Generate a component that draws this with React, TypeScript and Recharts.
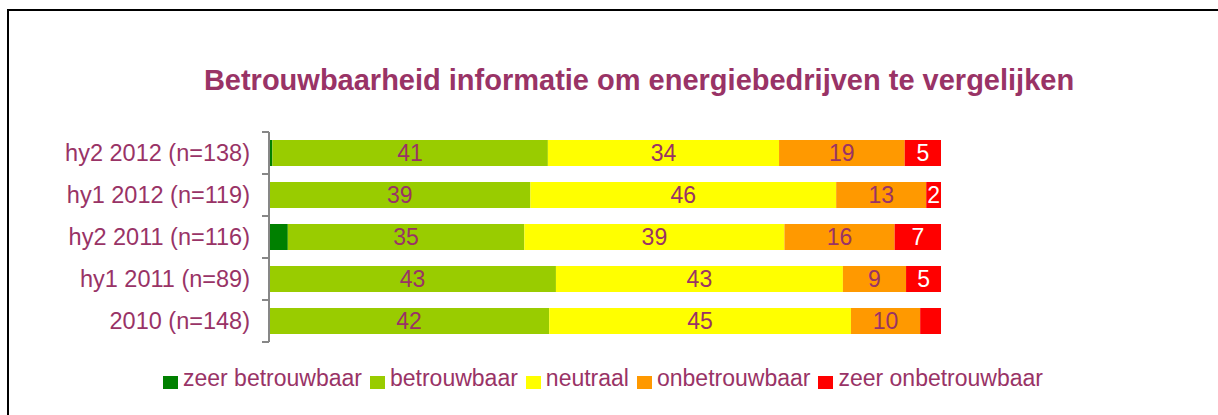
import React from "react"
import { BarChart, Bar, XAxis, YAxis, LabelList } from "recharts"

const categorieen = [
  "hy2 2012 (n=138)",
  "hy1 2012 (n=119)",
  "hy2 2011 (n=116)",
  "hy1 2011 (n=89)",
  "2010 (n=148)",
]
const zeerBetrouwbaar = [0.5, 0, 2.8, 0, 0]
const betrouwbaar = [41, 38.9, 35.2, 42.7, 41.7]
const neutraal = [34.4, 45.5, 38.7, 42.7, 44.9]
const onbetrouwbaar = [18.7, 13.4, 16.4, 9.4, 10.3]
const zeerOnbetrouwbaar = [5.4, 2.2, 6.9, 5.2, 3.1]
// in the original the last segment of 2010 carries no label
const zeerOnLabelZichtbaar = [true, true, true, true, false]

const titel = "Betrouwbaarheid informatie om energiebedrijven te vergelijken"
const TEKST = "#993366"
const AS = "#878787"
const FONT = "Arial, 'Liberation Sans', sans-serif"

const MARGE = { top: 132, right: 277, bottom: 73, left: 0 }
const HOOGTE = 415
const halveBand = (HOOGTE - MARGE.top - MARGE.bottom) / categorieen.length / 2

const reeksen = [
  { key: "zeerBetrouwbaar", name: "zeer betrouwbaar", color: "#008000", label: null },
  { key: "betrouwbaar", name: "betrouwbaar", color: "#99CC00", label: TEKST },
  { key: "neutraal", name: "neutraal", color: "#FFFF00", label: TEKST },
  { key: "onbetrouwbaar", name: "onbetrouwbaar", color: "#FF9900", label: TEKST },
  { key: "zeerOnbetrouwbaar", name: "zeer onbetrouwbaar", color: "#FF0000", label: "#FFFFFF" },
]

const data = categorieen.map((cat, i) => ({
  cat,
  zeerBetrouwbaar: zeerBetrouwbaar[i],
  betrouwbaar: betrouwbaar[i],
  neutraal: neutraal[i],
  onbetrouwbaar: onbetrouwbaar[i],
  zeerOnbetrouwbaar: zeerOnbetrouwbaar[i],
}))

function segmentLabel(kleur: string, key: string) {
  return (props: any) => {
    const { x, y, width, height, value, index } = props
    if (key === "zeerOnbetrouwbaar" && !zeerOnLabelZichtbaar[index]) return null
    return (
      <text
        x={Number(x) + Number(width) / 2}
        y={Number(y) + Number(height) / 2}
        dy="0.355em"
        textAnchor="middle"
        fill={kleur}
        fontSize={23}
        fontFamily={FONT}
      >
        {Math.round(Number(value))}
      </text>
    )
  }
}

// category label plus tick marks on the band boundaries (Excel style)
function CategorieTick(props: any) {
  const { x, y, payload, index } = props
  const asX = x + 19
  const laatste = index === categorieen.length - 1
  return (
    <g>
      <line x1={asX - 7} x2={asX} y1={y - halveBand} y2={y - halveBand} stroke={AS} strokeWidth={2} />
      {laatste && (
        <line x1={asX - 7} x2={asX} y1={y + halveBand} y2={y + halveBand} stroke={AS} strokeWidth={2} />
      )}
      <text x={x} y={y} dy="0.355em" textAnchor="end" fill={TEKST} fontSize={23.5} fontFamily={FONT}>
        {payload.value}
      </text>
    </g>
  )
}

export default function App() {
  return (
    <div
      style={{
        position: "absolute",
        left: 0,
        top: 0,
        width: 1218,
        height: 415,
        overflow: "hidden",
        background: "#fff",
        fontFamily: FONT,
      }}
    >
      <div
        style={{
          position: "absolute",
          left: 7,
          top: 9,
          width: 1300,
          height: 500,
          border: "2px solid #000",
        }}
      />
      <div
        style={{
          position: "absolute",
          left: 0,
          top: 66,
          width: 1278,
          textAlign: "center",
          fontSize: 29,
          lineHeight: "29px",
          fontWeight: "bold",
          color: TEKST,
        }}
      >
        {titel}
      </div>
      <div style={{ position: "absolute", left: 0, top: 0 }}>
        <BarChart
          width={1218}
          height={HOOGTE}
          data={data}
          layout="vertical"
          margin={MARGE}
          barSize={26}
        >
          <XAxis type="number" domain={[0, 100]} hide />
          <YAxis
            type="category"
            dataKey="cat"
            width={269}
            axisLine={{ stroke: AS, strokeWidth: 2 }}
            tickLine={false}
            tickSize={0}
            tickMargin={19}
            tick={<CategorieTick />}
          />
          {reeksen.map((r) => (
            <Bar
              key={r.key}
              dataKey={r.key}
              name={r.name}
              stackId="a"
              fill={r.color}
              isAnimationActive={false}
            >
              {r.label && (
                <LabelList dataKey={r.key} content={segmentLabel(r.label, r.key)} />
              )}
            </Bar>
          ))}
        </BarChart>
      </div>
      <div
        style={{
          position: "absolute",
          left: 0,
          top: 367,
          width: 1206,
          display: "flex",
          justifyContent: "center",
          alignItems: "flex-start",
          fontSize: 23,
          lineHeight: "23px",
          color: TEKST,
        }}
      >
        {reeksen.map((r, i) => (
          <div
            key={r.key}
            style={{ display: "flex", alignItems: "flex-start", marginLeft: i === 0 ? 0 : 8 }}
          >
            <span
              style={{
                display: "inline-block",
                width: 15,
                height: 13,
                marginTop: 9,
                marginRight: 5,
                background: r.color,
              }}
            />
            <span>{r.name}</span>
          </div>
        ))}
      </div>
    </div>
  )
}
